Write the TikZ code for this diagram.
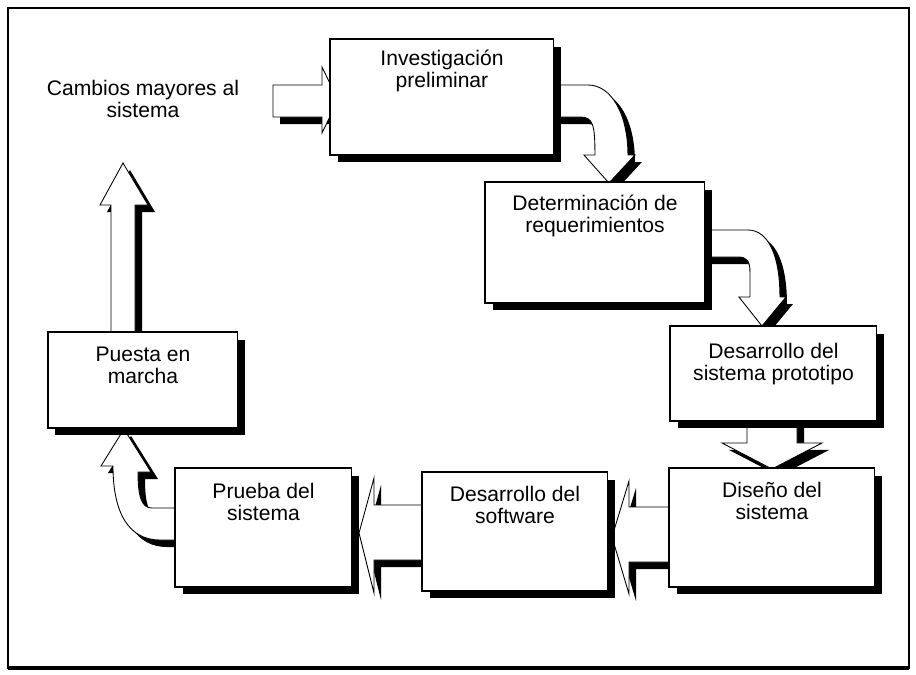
\documentclass[tikz,border=0pt]{standalone}
\usepackage{fontspec}
\setmainfont{Liberation Sans}
\usetikzlibrary{positioning,shadows}
\pgfdeclarelayer{background}
\pgfsetlayers{background,main}
\tikzset{stagebox/.style={
    % The shape:
    rectangle,
    anchor=north west,
    inner sep=0pt, outer sep=0pt,
    % The border:
    draw=black, line width=0.6pt,
    fill=white,
    % The shadow:
    drop shadow={shadow xshift=0.15cm, shadow yshift=-0.15cm, fill=black, opacity=1}
    },
    stagetext/.style={
    align=center,
    inner sep=0pt,
    font=\fontsize{12pt}{12.5pt}\selectfont
    },
    blockarrow/.style={
    draw=black, line width=0.5pt, line join=miter,
    fill=white,
    drop shadow={shadow xshift=0.14cm, shadow yshift=-0.14cm, fill=black, opacity=1}
    },
}

\begin{document}
\begin{tikzpicture}[x=0.02cm, y=-0.02cm, node distance=0.26cm]
    \useasboundingbox (0,0) rectangle (916,674);
    \draw[line width=0.8pt] (8,8) rectangle (909,668);
    \draw[line width=2.4pt] (8,668) -- (909,668);

    \node (inv)   [stagebox, minimum width=4.48cm, minimum height=2.32cm] at (330,39)  {};
    \node (det)   [stagebox, minimum width=4.40cm, minimum height=2.42cm] at (485,182) {};
    \node (proto) [stagebox, minimum width=4.14cm, minimum height=1.90cm] at (670,326) {};
    \node (dis)   [stagebox, minimum width=4.12cm, minimum height=2.38cm] at (669,468) {};
    \node (soft)  [stagebox, minimum width=3.72cm, minimum height=2.38cm] at (422,472) {};
    \node (prue)  [stagebox, minimum width=3.54cm, minimum height=2.38cm] at (175,468) {};
    \node (pues)  [stagebox, minimum width=3.80cm, minimum height=1.92cm] at (48,332)  {};

    \node (invtext)   [stagetext, below=0.22cm of inv.north]   {Investigación\\preliminar};
    \node (dettext)   [stagetext, below=of det.north]          {Determinación de\\requerimientos};
    \node (prototext) [stagetext, below=0.34cm of proto.north] {Desarrollo del\\sistema prototipo};
    \node (distext)   [stagetext, below=0.28cm of dis.north]   {Diseño del\\sistema};
    \node (softtext)  [stagetext, below=0.28cm of soft.north]  {Desarrollo del\\software};
    \node (pruetext)  [stagetext, below=0.30cm of prue.north]  {Prueba del\\sistema};
    \node (puestext)  [stagetext, below=0.30cm of pues.north]  {Puesta en\\marcha};
    \node (cambios)   [stagetext, anchor=north] at (143,80)    {Cambios mayores al\\sistema};

    \begin{pgfonlayer}{background}
    % into the first stage
    \path[blockarrow, shift={(inv.north west)}]
        (-57,46) -- (-8,46) -- (-8,28) -- (8,61) -- (-8,94) -- (-8,78) -- (-57,78) -- cycle;
    % bent arrows going down the steps
    \path[blockarrow, shift={(inv.north east)}]
        (0,46) -- (34,46) .. controls (58,46) and (74,76) .. (74,116) -- (81,116) -- (55,144)
        -- (30,116) -- (41,116) .. controls (41,85) and (39,78) .. (26,78) -- (0,78) -- cycle;
    \path[blockarrow, shift={(det.north east)}]
        (0,48) -- (43,48) .. controls (63,48) and (75,73) .. (75,115) -- (81,115) -- (57,144)
        -- (34,115) -- (45,115) -- (45,90) .. controls (45,79) and (42,75) .. (33,75) -- (0,75) -- cycle;
    \path[blockarrow, shift={(proto.south west)}]
        (77,0) -- (77,22) -- (52,22) -- (102,48) -- (152,22) -- (127,22) -- (127,0) -- cycle;
    % back along the bottom row
    \path[blockarrow, shift={(dis.north west)}]
        (0,39) -- (-40,39) -- (-40,13) -- (-57,69) -- (-40,126) -- (-40,94) -- (0,94) -- cycle;
    \path[blockarrow, shift={(soft.north west)}]
        (0,33) -- (-48,33) -- (-48,6) -- (-63,61) -- (-48,121) -- (-48,88) -- (0,88) -- cycle;
    \path[blockarrow, shift={(prue.north west)}]
        (0,40) -- (-23,40) .. controls (-33,40) and (-37,30) .. (-37,4) -- (-24,4) -- (-51,-39)
        -- (-74,-2) -- (-62,-2) .. controls (-62,47) and (-45,72) .. (-15,72) -- (0,72) -- cycle;
    % out of the cycle
    \path[blockarrow, shift={(pues.north west)}]
        (63,0) -- (63,-127) -- (52,-127) -- (75,-169) -- (100,-127) -- (87,-127) -- (87,0) -- cycle;
    \end{pgfonlayer}
\end{tikzpicture}
\end{document}
